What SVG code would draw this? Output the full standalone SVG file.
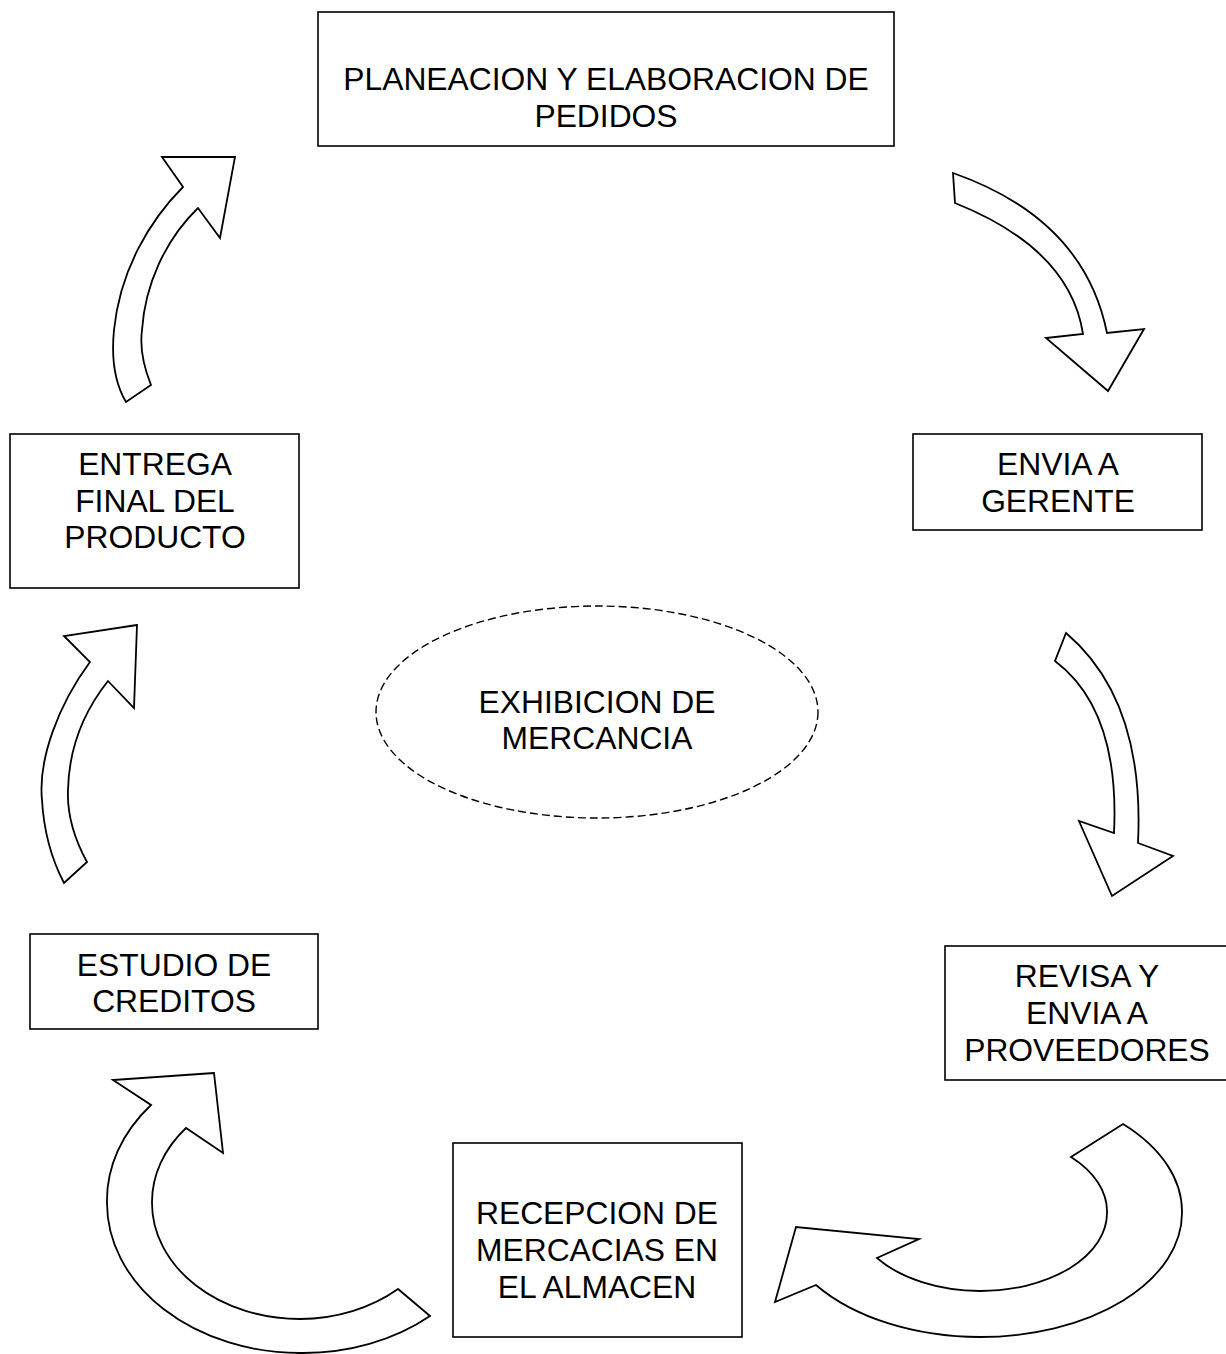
<svg xmlns="http://www.w3.org/2000/svg" width="1226" height="1354" viewBox="0 0 1226 1354">
<style>
.box{fill:#fff;stroke:#000;stroke-width:1.6}
.arr{fill:#fff;stroke:#000;stroke-width:1.8;stroke-linejoin:miter}
.t{font-family:"Liberation Sans",Arial,sans-serif;font-size:31.8px;fill:#000;text-anchor:middle}
.ell{fill:#fff;stroke:#000;stroke-width:1.4;stroke-dasharray:8 4}
</style>
<rect width="1226" height="1354" fill="#fff"/>
<g id="connectors">
<path class="arr" d="M953,173 Q1084,219 1107,333 L1144,329 L1108,391 L1046,338 L1083,334 Q1070,249 955,203 Z"/>
<path class="arr" d="M1066,633 Q1145,700 1138,843 L1173,856 L1112,896 L1079,821 L1114,833 Q1120,710 1055,661 Z"/>
<path class="arr" d="M1123,1124 A202,124 0 0 1 1182,1213 A202,124 0 0 1 980,1337 A202,124 0 0 1 816,1285 L775,1302 L796,1227 L919,1239 L877,1258 A127,78 0 0 0 980,1291 A127,78 0 0 0 1107,1213 A127,78 0 0 0 1071,1157 Z"/>
<path class="arr" d="M214,1073 L113,1080 L151,1105 A193,150 0 0 0 107,1203 A193,150 0 0 0 300,1353 A193,150 0 0 0 430,1316 L398,1289 A148,116 0 0 1 300,1319 A148,116 0 0 1 152,1203 A148,116 0 0 1 186,1128 L223,1153 Z"/>
<path class="arr" d="M137,625 L64,636 L90,662 C58,705 38,760 42,800 C44,835 52,860 64,883 L87,862 C75,840 67,815 68,790 C69,745 85,710 108,681 L134,708 Z"/>
<path class="arr" d="M235,157 L162,157 L183,187 C150,220 120,270 114,330 C111,360 116,385 126,402 L151,385 C143,365 140,345 142,330 C145,285 165,240 198,208 L220,238 Z"/>
</g>
<g id="n-planeacion">
<rect class="box" x="318" y="12" width="576" height="134"/>
<text class="t" x="606" y="90">PLANEACION Y ELABORACION DE</text>
<text class="t" x="606" y="127">PEDIDOS</text>
</g>
<g id="n-envia">
<rect class="box" x="913" y="434" width="289" height="96"/>
<text class="t" x="1058" y="475">ENVIA A</text>
<text class="t" x="1058" y="512">GERENTE</text>
</g>
<g id="n-revisa">
<rect class="box" x="945" y="946" width="290" height="134"/>
<text class="t" x="1087" y="987">REVISA Y</text>
<text class="t" x="1087" y="1024">ENVIA A</text>
<text class="t" x="1087" y="1061">PROVEEDORES</text>
</g>
<g id="n-recepcion">
<rect class="box" x="453" y="1143" width="289" height="194"/>
<text class="t" x="597" y="1224">RECEPCION DE</text>
<text class="t" x="597" y="1261">MERCACIAS EN</text>
<text class="t" x="597" y="1298">EL ALMACEN</text>
</g>
<g id="n-estudio">
<rect class="box" x="30" y="934" width="288" height="95"/>
<text class="t" x="174" y="976">ESTUDIO DE</text>
<text class="t" x="174" y="1012">CREDITOS</text>
</g>
<g id="n-entrega">
<rect class="box" x="10" y="434" width="289" height="154"/>
<text class="t" x="155" y="475">ENTREGA</text>
<text class="t" x="155" y="512">FINAL DEL</text>
<text class="t" x="155" y="548">PRODUCTO</text>
</g>
<g id="n-exhibicion">
<ellipse class="ell" cx="597" cy="712" rx="221" ry="106"/>
<text class="t" x="597" y="713">EXHIBICION DE</text>
<text class="t" x="597" y="749">MERCANCIA</text>
</g>
</svg>
